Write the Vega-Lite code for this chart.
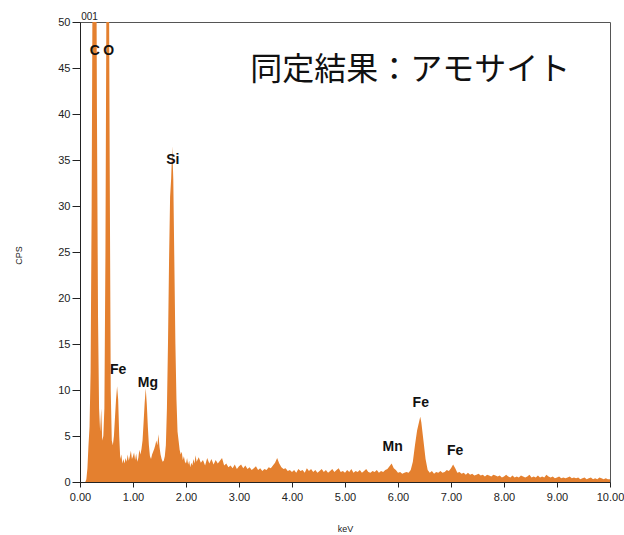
{
"$schema": "https://vega.github.io/schema/vega-lite/v6.json",
"autosize": "none",
"width": 530, "height": 460,
"padding": {"left": 80, "top": 22, "right": 14, "bottom": 53},
"background": "white",
"config": {"view": {"stroke": "#555", "strokeWidth": 1}, "font": "Liberation Sans"},
"datasets": {
"spec": [
{"e":0,"c":0},{"e":0.06,"c":0},{"e":0.10,"c":0},{"e":0.12,"c":0.3},{"e":0.14,"c":1.5},{"e":0.16,"c":4},{"e":0.18,"c":6},{"e":0.20,"c":12},{"e":0.22,"c":30},{"e":0.24,"c":60},{"e":0.26,"c":80},{"e":0.28,"c":85},{"e":0.30,"c":70},{"e":0.32,"c":40},{"e":0.34,"c":18},{"e":0.36,"c":8},{"e":0.38,"c":5.5},{"e":0.40,"c":8},{"e":0.42,"c":4.5},{"e":0.44,"c":5},{"e":0.46,"c":8},{"e":0.48,"c":25},{"e":0.50,"c":55},{"e":0.52,"c":70},{"e":0.54,"c":65},{"e":0.56,"c":35},{"e":0.58,"c":10},{"e":0.60,"c":4.5},{"e":0.62,"c":4},{"e":0.64,"c":5},{"e":0.66,"c":7},{"e":0.68,"c":9},{"e":0.70,"c":10.4},{"e":0.72,"c":9},{"e":0.74,"c":5},{"e":0.76,"c":2.5},{"e":0.78,"c":3},{"e":0.80,"c":2},{"e":0.82,"c":2.5},{"e":0.84,"c":2},{"e":0.86,"c":2.6},{"e":0.88,"c":2.2},{"e":0.90,"c":3},{"e":0.92,"c":2.3},{"e":0.94,"c":2.8},{"e":0.96,"c":3.4},{"e":0.98,"c":2.5},{"e":1.00,"c":2.8},{"e":1.02,"c":3.2},{"e":1.04,"c":2.4},{"e":1.06,"c":3.1},{"e":1.08,"c":2.2},{"e":1.10,"c":2.6},{"e":1.12,"c":3.5},{"e":1.14,"c":3},{"e":1.16,"c":3.6},{"e":1.18,"c":4.5},{"e":1.20,"c":6.5},{"e":1.22,"c":8.6},{"e":1.24,"c":10.2},{"e":1.26,"c":8.5},{"e":1.28,"c":6},{"e":1.30,"c":4},{"e":1.32,"c":2.8},{"e":1.34,"c":2.5},{"e":1.36,"c":3},{"e":1.38,"c":3.3},{"e":1.40,"c":3.6},{"e":1.42,"c":4},{"e":1.44,"c":4.5},{"e":1.46,"c":4},{"e":1.48,"c":5.2},{"e":1.50,"c":3.8},{"e":1.52,"c":3},{"e":1.54,"c":2.5},{"e":1.56,"c":2.2},{"e":1.58,"c":2.3},{"e":1.60,"c":2.8},{"e":1.62,"c":4},{"e":1.64,"c":8},{"e":1.66,"c":15},{"e":1.68,"c":24},{"e":1.70,"c":31},{"e":1.72,"c":33},{"e":1.74,"c":36.5},{"e":1.76,"c":33},{"e":1.78,"c":24},{"e":1.80,"c":15},{"e":1.82,"c":9},{"e":1.84,"c":5.5},{"e":1.86,"c":4.5},{"e":1.88,"c":3.5},{"e":1.90,"c":3},{"e":1.92,"c":3.3},{"e":1.94,"c":2.4},{"e":1.96,"c":2.8},{"e":1.98,"c":2.2},{"e":2.00,"c":2.0},{"e":2.02,"c":2.6},{"e":2.04,"c":1.9},{"e":2.06,"c":2.3},{"e":2.08,"c":1.6},{"e":2.10,"c":2.1},{"e":2.12,"c":1.8},{"e":2.14,"c":2.5},{"e":2.16,"c":2.0},{"e":2.18,"c":2.9},{"e":2.20,"c":2.2},
{"e":2.24,"c":2.7},{"e":2.28,"c":2.1},{"e":2.32,"c":2.4},{"e":2.36,"c":1.8},{"e":2.40,"c":2.6},{"e":2.44,"c":2.0},{"e":2.48,"c":2.5},{"e":2.52,"c":1.9},{"e":2.56,"c":2.4},{"e":2.60,"c":2.0},{"e":2.64,"c":2.3},{"e":2.68,"c":2.6},{"e":2.72,"c":1.8},{"e":2.76,"c":2.0},{"e":2.80,"c":1.6},{"e":2.84,"c":1.8},{"e":2.88,"c":1.5},{"e":2.92,"c":1.9},{"e":2.96,"c":1.4},{"e":3.00,"c":1.7},{"e":3.04,"c":1.9},{"e":3.08,"c":1.5},{"e":3.12,"c":1.8},{"e":3.16,"c":1.4},{"e":3.20,"c":1.6},{"e":3.24,"c":1.3},{"e":3.28,"c":1.5},{"e":3.32,"c":1.7},{"e":3.36,"c":1.3},{"e":3.40,"c":1.5},{"e":3.44,"c":1.2},{"e":3.48,"c":1.4},{"e":3.52,"c":1.3},{"e":3.56,"c":1.6},{"e":3.60,"c":1.5},{"e":3.64,"c":1.8},{"e":3.68,"c":2.1},{"e":3.72,"c":2.6},{"e":3.76,"c":2.0},{"e":3.80,"c":1.6},{"e":3.84,"c":1.4},{"e":3.88,"c":1.5},{"e":3.92,"c":1.2},{"e":3.96,"c":1.3},{"e":4.00,"c":1.1},{"e":4.04,"c":1.3},{"e":4.08,"c":1.0},{"e":4.12,"c":1.4},{"e":4.16,"c":1.2},{"e":4.20,"c":1.3},{"e":4.24,"c":1.0},{"e":4.28,"c":1.5},{"e":4.32,"c":1.2},{"e":4.36,"c":1.4},{"e":4.40,"c":1.1},{"e":4.44,"c":1.3},{"e":4.48,"c":1.0},{"e":4.52,"c":1.2},{"e":4.56,"c":1.4},{"e":4.60,"c":1.1},{"e":4.64,"c":1.3},{"e":4.68,"c":1.0},{"e":4.72,"c":1.2},{"e":4.76,"c":1.4},{"e":4.80,"c":1.1},{"e":4.84,"c":1.3},{"e":4.88,"c":1.5},{"e":4.92,"c":1.1},{"e":4.96,"c":1.2},{"e":5.00,"c":1.0},{"e":5.04,"c":1.3},{"e":5.08,"c":1.1},{"e":5.12,"c":1.4},{"e":5.16,"c":1.0},{"e":5.20,"c":1.2},{"e":5.24,"c":1.1},{"e":5.28,"c":1.3},{"e":5.32,"c":1.0},{"e":5.36,"c":1.2},{"e":5.40,"c":1.4},{"e":5.44,"c":1.1},{"e":5.48,"c":1.0},{"e":5.52,"c":1.2},{"e":5.56,"c":1.1},{"e":5.60,"c":1.3},{"e":5.64,"c":1.0},{"e":5.68,"c":1.2},{"e":5.72,"c":1.1},{"e":5.76,"c":1.3},{"e":5.80,"c":1.4},{"e":5.84,"c":1.7},{"e":5.88,"c":2.0},{"e":5.92,"c":1.5},{"e":5.96,"c":1.3},{"e":6.00,"c":1.0},{"e":6.04,"c":1.1},{"e":6.08,"c":0.9},{"e":6.12,"c":1.0},{"e":6.16,"c":1.1},{"e":6.20,"c":1.0},{"e":6.24,"c":1.3},{"e":6.28,"c":2.2},{"e":6.32,"c":4.0},{"e":6.36,"c":5.6},{"e":6.40,"c":6.6},{"e":6.42,"c":7.1},{"e":6.44,"c":6.5},{"e":6.48,"c":4.5},{"e":6.52,"c":2.5},{"e":6.56,"c":1.3},{"e":6.60,"c":1.0},{"e":6.64,"c":1.2},{"e":6.68,"c":0.9},{"e":6.72,"c":1.1},{"e":6.76,"c":1.0},{"e":6.80,"c":1.2},{"e":6.84,"c":1.0},{"e":6.88,"c":1.1},{"e":6.92,"c":1.3},{"e":6.96,"c":1.2},{"e":7.00,"c":1.5},{"e":7.04,"c":1.9},{"e":7.08,"c":1.5},{"e":7.12,"c":1.0},{"e":7.16,"c":1.1},{"e":7.20,"c":0.9},{"e":7.24,"c":1.0},{"e":7.28,"c":0.8},{"e":7.32,"c":1.0},{"e":7.36,"c":0.8},{"e":7.40,"c":0.9},{"e":7.44,"c":0.7},{"e":7.48,"c":0.8},{"e":7.52,"c":0.9},{"e":7.56,"c":0.7},{"e":7.60,"c":0.8},{"e":7.64,"c":0.6},{"e":7.68,"c":0.8},{"e":7.72,"c":0.7},{"e":7.76,"c":0.6},{"e":7.80,"c":0.8},{"e":7.84,"c":0.7},{"e":7.88,"c":0.6},{"e":7.92,"c":0.7},{"e":7.96,"c":0.5},{"e":8.00,"c":0.6},{"e":8.04,"c":0.8},{"e":8.08,"c":0.6},{"e":8.12,"c":0.5},{"e":8.16,"c":0.7},{"e":8.20,"c":0.5},{"e":8.24,"c":0.6},{"e":8.28,"c":0.5},{"e":8.32,"c":0.7},{"e":8.36,"c":0.6},{"e":8.40,"c":0.5},{"e":8.44,"c":0.6},{"e":8.48,"c":0.8},{"e":8.52,"c":0.5},{"e":8.56,"c":0.6},{"e":8.60,"c":0.5},{"e":8.64,"c":0.7},{"e":8.68,"c":0.5},{"e":8.72,"c":0.6},{"e":8.76,"c":0.5},{"e":8.80,"c":0.8},{"e":8.84,"c":0.6},{"e":8.88,"c":0.5},{"e":8.92,"c":0.6},{"e":8.96,"c":0.4},{"e":9.00,"c":0.5},{"e":9.04,"c":0.6},{"e":9.08,"c":0.4},{"e":9.12,"c":0.5},{"e":9.16,"c":0.4},{"e":9.20,"c":0.5},{"e":9.24,"c":0.6},{"e":9.28,"c":0.4},{"e":9.32,"c":0.5},{"e":9.36,"c":0.4},{"e":9.40,"c":0.5},{"e":9.44,"c":0.3},{"e":9.48,"c":0.4},{"e":9.52,"c":0.5},{"e":9.56,"c":0.3},{"e":9.60,"c":0.4},{"e":9.64,"c":0.5},{"e":9.68,"c":0.3},{"e":9.72,"c":0.4},{"e":9.76,"c":0.3},{"e":9.80,"c":0.5},{"e":9.84,"c":0.4},{"e":9.88,"c":0.3},{"e":9.92,"c":0.4},{"e":9.96,"c":0.3},{"e":10.00,"c":0.3}
],
"labels": [
{"t":"C","e":0.28,"c":46.8},{"t":"O","e":0.54,"c":46.8},{"t":"Si","e":1.75,"c":35},{"t":"Fe","e":0.72,"c":12.2},{"t":"Mg","e":1.28,"c":10.8},{"t":"Mn","e":5.9,"c":3.8},{"t":"Fe","e":6.43,"c":8.6},{"t":"Fe","e":7.08,"c":3.4}
],
"small": [{"t":"001","e":0.18,"c":50.55}],
"title": [{"t":"同定結果：アモサイト","e":6.23,"c":44.8}]
},
"layer": [
{
"data": {"name": "spec"},
"mark": {"type": "area", "color": "#E4802F", "clip": true, "interpolate": "linear"},
"encoding": {
"x": {"field": "e", "type": "quantitative", "scale": {"domain": [0, 10], "nice": false},
"axis": {"title": "keV", "values": [0,1,2,3,4,5,6,7,8,9,10], "format": ".2f", "grid": false, "labelFlush": false, "labelOverlap": false, "labelFontSize": 11, "labelColor": "#222", "tickSize": 5, "tickColor": "#222", "domainColor": "#222", "labelPadding": 4, "titleFontSize": 9, "titleFontWeight": "normal", "titleColor": "#222", "titleY": 46, "titleBaseline": "middle"}},
"y": {"field": "c", "type": "quantitative", "scale": {"domain": [0, 50], "nice": false},
"axis": {"title": "CPS", "values": [0,5,10,15,20,25,30,35,40,45,50], "grid": false, "labelFlush": false, "labelOverlap": false, "labelFontSize": 11, "labelColor": "#222", "tickSize": 8, "tickColor": "#222", "domainColor": "#222", "labelPadding": 2, "titleFontSize": 9, "titleFontWeight": "normal", "titleColor": "#222", "titleX": -62, "titleY": 233, "titleBaseline": "middle"}}
}
},
{
"data": {"name": "labels"},
"mark": {"type": "text", "font": "Liberation Sans", "fontSize": 14, "fontWeight": "bold", "color": "#111", "align": "center", "baseline": "middle"},
"encoding": {"x": {"field": "e", "type": "quantitative"}, "y": {"field": "c", "type": "quantitative"}, "text": {"field": "t"}}
},
{
"data": {"name": "small"},
"mark": {"type": "text", "font": "Liberation Sans", "fontSize": 10, "color": "#222", "align": "center", "baseline": "middle"},
"encoding": {"x": {"field": "e", "type": "quantitative"}, "y": {"field": "c", "type": "quantitative"}, "text": {"field": "t"}}
},
{
"data": {"name": "title"},
"mark": {"type": "text", "font": "Noto Sans CJK JP", "fontSize": 32, "fontWeight": "normal", "color": "#111", "align": "center", "baseline": "middle"},
"encoding": {"x": {"field": "e", "type": "quantitative"}, "y": {"field": "c", "type": "quantitative"}, "text": {"field": "t"}}
}
]
}
